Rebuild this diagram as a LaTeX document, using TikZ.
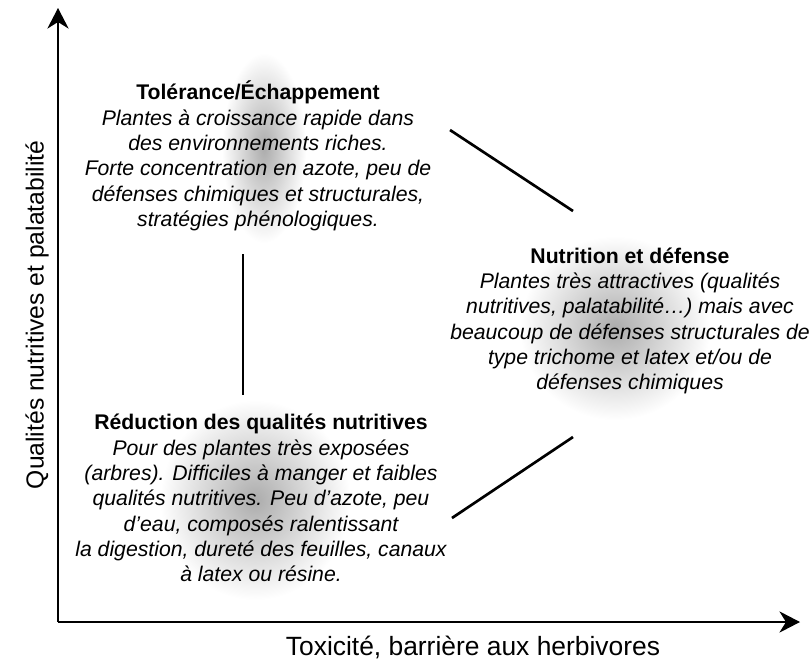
\documentclass[tikz,border=0pt]{standalone}
\usepackage{fontspec}
\setmainfont{Liberation Sans}
\usetikzlibrary{arrows.meta,positioning}

\begin{document}
\begin{tikzpicture}
        [x=0.75pt, y=-0.75pt,
          strat/.style={
            align=center,
            font=\fontsize{15.9}{19}\selectfont\itshape},
          axe/.style={
            line width=1pt,
            -{Stealth[length=15.5pt,width=16pt,inset=5pt]}},
          axelabel/.style={font=\fontsize{18.5}{22}\selectfont},
          lien/.style={line width=2pt},
          blob/.style={inner color=gray!65, outer color=white}]
        \useasboundingbox (0,0) rectangle (811,662);

        % fonds gris flous
        \shade[blob] (264,148) ellipse (42 and 95);
        \shade[blob] (615,328) ellipse (95 and 92);
        \shade[blob] (255,500) ellipse (95 and 100);

        % axes
        \coordinate (o) at (58,622);
        \coordinate (ytop) at (58,8);
        \coordinate (xend) at (800,622);
        \draw[axe] (o) -- (ytop);
        \draw[axe] (o) -- (xend);
        \node[axelabel, rotate=90] (ylab) at (37,315) {Qualités nutritives et palatabilité};
        \node[axelabel, font=\fontsize{19.8}{23}\selectfont] (xlab) at (473,647) {Toxicité, barrière aux herbivores};

        % les trois strategies
        \node[strat] (tol) at (258,156) {{\upshape\bfseries Tolérance/Échappement}\\
          Plantes à croissance rapide dans\\
          des environnements riches.\\
          Forte concentration en azote, peu de\\
          défenses chimiques et structurales,\\
          stratégies phénologiques.};
        \node[strat] (nut) at (630,321) {{\upshape\bfseries Nutrition et défense}\\
          Plantes très attractives (qualités\\
          nutritives, palatabilité…) mais avec\\
          beaucoup de défenses structurales de\\
          type trichome et latex et/ou de\\
          défenses chimiques};
        \node[strat] (red) at (261,498) {{\upshape\bfseries Réduction des qualités nutritives}\\
          Pour des plantes très exposées\\
          (arbres). Difficiles à manger et faibles\\
          qualités nutritives. Peu d'azote, peu\\
          d'eau, composés ralentissant\\
          la digestion, dureté des feuilles, canaux\\
          à latex ou résine.};

        % liens
        \coordinate (tolbas) at (243,254);
        \coordinate (redhaut) at (243,395);
        \coordinate (tolcote) at (450,130);
        \coordinate (nuthaut) at (573,211);
        \coordinate (redcote) at (452,518);
        \coordinate (nutbas) at (573,437);
        \draw[lien] (tolbas) -- (redhaut);
        \draw[lien] (tolcote) -- (nuthaut);
        \draw[lien] (redcote) -- (nutbas);
      \end{tikzpicture}
\end{document}
